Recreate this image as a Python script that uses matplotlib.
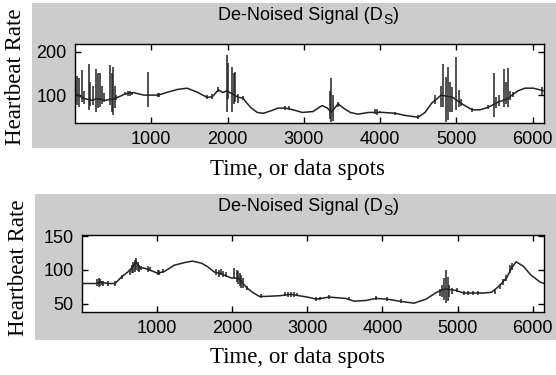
import matplotlib
matplotlib.use("Agg")
import matplotlib.pyplot as plt
from matplotlib.patches import Rectangle

# ---------------- data ----------------
# Top panel: smooth baseline points
top_x = [0, 40, 120, 220, 300, 400, 520, 600, 660, 760, 810, 900, 960, 1090, 1200,
         1340, 1470, 1600, 1730, 1800, 1880, 1940, 1990, 2140, 2200, 2300, 2390, 2470,
         2590, 2660, 2760, 2860, 2980, 3120, 3240, 3310, 3360, 3450, 3520, 3610, 3710,
         3850, 4040, 4200, 4330, 4500, 4590, 4680, 4750, 4800, 4950, 5090, 5210, 5310,
         5420, 5550, 5680, 5730, 5810, 5900, 6010, 6100, 6150]
top_y = [105, 100, 92, 88, 92, 88, 92, 98, 103, 106, 104, 100, 100, 100, 106,
         113, 116, 107, 95, 96, 112, 106, 110, 95, 93, 72, 60, 58,
         65, 70, 70, 66, 60, 62, 76, 70, 60, 80, 70, 60, 56,
         60, 60, 58, 53, 49, 60, 82, 92, 100, 95, 78, 66, 66,
         72, 84, 92, 100, 110, 116, 116, 112, 110]
# Top panel: noise bursts (position, low, high)
top_sp_x = [30, 50, 90, 120, 180, 200, 240, 280, 300, 330, 350, 380, 460, 480, 500,
            520, 540, 660, 690, 720, 750, 960, 1090, 1100, 1730, 1800, 1880,
            1990, 2010, 2060, 2080, 2100, 2140, 2200, 2760, 2800,
            3340, 3360, 3380, 3450, 3930, 3960, 4000, 4200, 4500,
            4720, 4800, 4820, 4860, 4890, 4920, 4950, 5000, 5030, 5060,
            5210, 5420, 5490, 5520, 5560, 5620, 5650, 5680, 5700, 5750, 6130]
top_sp_lo = [78, 72, 85, 80, 65, 75, 78, 60, 70, 72, 80, 85, 77, 60, 53,
             70, 88, 100, 98, 97, 100, 73, 95, 96, 90, 92, 108,
             60, 90, 60, 80, 84, 81, 88, 66, 65,
             45, 37, 40, 72, 56, 55, 58, 55, 45,
             80, 73, 73, 37, 42, 60, 60, 65, 73, 75,
             62, 68, 49, 70, 75, 73, 80, 73, 88, 95, 100]
top_sp_hi = [145, 140, 158, 110, 172, 130, 120, 160, 150, 150, 120, 105, 170, 150, 165,
             120, 100, 108, 110, 110, 108, 153, 104, 104, 100, 102, 118,
             193, 175, 165, 150, 153, 102, 98, 75, 74,
             110, 140, 100, 85, 67, 68, 63, 62, 54,
             100, 120, 172, 142, 165, 130, 119, 188, 112, 90,
             70, 78, 150, 95, 100, 160, 130, 162, 110, 108, 118]

# Bottom panel: baseline points
bot_x = [0, 180, 250, 345, 440, 530, 610, 680, 720, 770, 810, 875, 1010, 1100, 1230,
         1370, 1470, 1590, 1670, 1760, 1860, 1990, 2080, 2200, 2270, 2360, 2450, 2630,
         2780, 2890, 3000, 3120, 3290, 3510, 3620, 3780, 3910, 4060, 4220, 4420, 4580,
         4720, 4830, 4970, 5080, 5210, 5340, 5450, 5540, 5650, 5720, 5780, 5880, 5970,
         6100, 6150]
bot_y = [80, 80, 82, 80, 80, 90, 97, 105, 112, 103, 103, 101, 95, 98, 107,
         111, 113, 110, 105, 97, 94, 88, 88, 73, 67, 61, 61, 62,
         64, 62, 60, 57, 60, 58, 54, 55, 58, 57, 54, 51, 57,
         67, 72, 70, 66, 66, 66, 67, 75, 88, 103, 112, 105, 93,
         82, 80]
bot_sp_x = [200, 220, 240, 260, 280, 345, 440, 530, 640, 660, 680, 700, 720, 740, 760,
            780, 875, 900, 1010, 1030, 1080, 1780, 1820, 1850, 1880, 1920,
            2030, 2060, 2080, 2100, 2120, 2140, 2200, 2380, 2700, 2740, 2780, 2820,
            2860, 3120, 3170, 3290, 3560, 3910, 4060, 4250,
            4760, 4790, 4820, 4850, 4870, 4890, 4920, 4990, 5080, 5140, 5200, 5270,
            5500, 5560, 5600, 5650, 5700, 5720]
bot_sp_lo = [76, 75, 77, 78, 77, 77, 77, 87, 92, 95, 95, 97, 100, 98, 97,
             100, 97, 98, 92, 92, 95, 92, 90, 92, 90, 89,
             88, 82, 80, 76, 74, 73, 70, 58, 62, 60, 60, 60,
             61, 54, 55, 57, 55, 55, 54, 52,
             62, 60, 55, 51, 54, 60, 65, 67, 63, 63, 63, 63,
             64, 72, 78, 84, 96, 100]
bot_sp_hi = [86, 88, 86, 84, 84, 83, 83, 93, 100, 108, 112, 115, 118, 112, 108,
             106, 106, 104, 100, 100, 101, 102, 100, 101, 98, 97,
             103, 100, 98, 96, 93, 88, 76, 64, 68, 68, 67, 68,
             66, 60, 60, 63, 60, 61, 60, 57,
             72, 78, 88, 100, 90, 78, 73, 73, 69, 69, 69, 69,
             72, 79, 86, 92, 108, 110]

x_ticks = [1000, 2000, 3000, 4000, 5000, 6000]
top_yticks = [100, 200]
bot_yticks = [50, 100, 150]
title_main = "De-Noised Signal (D"
title_sub = "S"
title_end = ")"
ylabel_text = "Heartbeat Rate"
xlabel_text = "Time, or data spots"

# ---------------- figure ----------------
W, H = 556, 375
fig = plt.figure(figsize=(W / 100, H / 100), dpi=100, facecolor="white")

def px_rect(x0, y0, x1, y1):
    return [x0 / W, 1 - y1 / H, (x1 - x0) / W, (y1 - y0) / H]

gray = "#cccccc"
for (x0, y0, x1, y1) in [(32, 3, 556, 148), (35, 194, 556, 340)]:
    r = px_rect(x0, y0, x1, y1)
    rect = Rectangle((r[0], r[1]), r[2], r[3], transform=fig.transFigure,
                     facecolor=gray, edgecolor="none", zorder=-10)
    fig.add_artist(rect)

sans = "Liberation Sans"
serif = "Liberation Serif"
line_col = "#222222"

ax1 = fig.add_axes(px_rect(75, 44, 544, 123))
ax2 = fig.add_axes(px_rect(82, 235, 544, 312))

renderer = fig.canvas.get_renderer()

panels = [
    (ax1, top_x, top_y, top_sp_x, top_sp_lo, top_sp_hi, (35.6, 218), top_yticks, 20, 77, 16, 170),
    (ax2, bot_x, bot_y, bot_sp_x, bot_sp_lo, bot_sp_hi, (38, 151.5), bot_yticks, 211, 268, 19, 358),
]
for ax, bx, by, sx, slo, shi, ylim, yt, ty, yly, ylx, xly in panels:
    ax.set_zorder(5)
    ax.set_facecolor("white")
    ax.plot(bx, by, color=line_col, lw=1.1, zorder=3)
    ax.vlines(sx, slo, shi, color=line_col, lw=1.1, zorder=3)
    ax.set_xlim(0, 6150)
    ax.set_ylim(*ylim)
    ax.set_xticks(x_ticks)
    ax.set_yticks(yt)
    ax.tick_params(direction="in", length=4, width=1, top=True, right=True,
                   labelsize=13, pad=6, colors="black")
    for lab in ax.get_xticklabels() + ax.get_yticklabels():
        lab.set_fontfamily(sans)
    for s in ax.spines.values():
        s.set_linewidth(1.0)
        s.set_color("black")
    # title "De-Noised Signal (D_S)" with a lowered subscript S (baseline y = ty px)
    x_left = 218
    t1 = fig.text(x_left / W, 1 - ty / H, title_main, ha="left", va="baseline",
                  fontsize=13, family=sans)
    bb = t1.get_window_extent(renderer)
    t2 = fig.text((bb.x1 + 0.5) / W, 1 - (ty + 4) / H, title_sub, ha="left",
                  va="baseline", fontsize=10, family=sans)
    bb2 = t2.get_window_extent(renderer)
    fig.text((bb2.x1 + 0.5) / W, 1 - ty / H, title_end, ha="left", va="baseline",
             fontsize=13, family=sans)
    fig.text(ylx / W, 1 - yly / H, ylabel_text, ha="center", va="center",
             rotation=90, fontsize=16.5, family=serif)
    fig.text(298 / W, 1 - xly / H, xlabel_text, ha="center", va="center",
             fontsize=16.5, family=serif)

fig.savefig("out.png", dpi=100, facecolor="white")
